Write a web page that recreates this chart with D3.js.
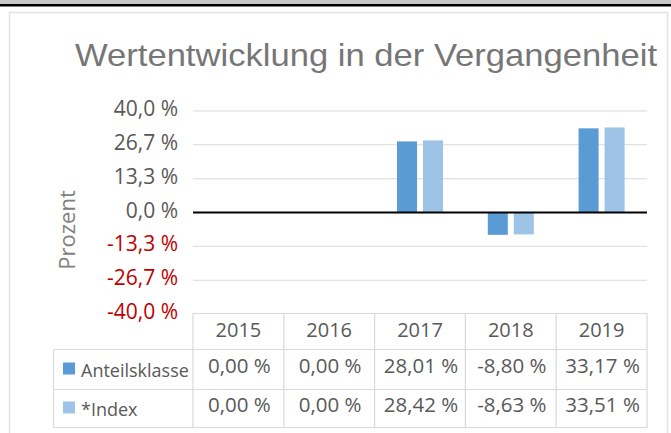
<!DOCTYPE html>
<html>
<head>
<meta charset="utf-8">
<script src="https://cdn.jsdelivr.net/npm/d3@7"></script>
<style>
  html, body { margin: 0; padding: 0; background: #ffffff; }
  svg { display: block; }
</style>
</head>
<body>
<svg id="chart" width="671" height="433"></svg>
<script>
// ---- data ----
const categories = ["2015", "2016", "2017", "2018", "2019"];
const seriesNames = ["Anteilsklasse", "*Index"];
const anteilsklasse = [0.00, 0.00, 28.01, -8.80, 33.17];
const indexValues = [0.00, 0.00, 28.42, -8.63, 33.51];
const yTicks = [40, 26.7, 13.3, 0, -13.3, -26.7, -40];
const titleText = "Wertentwicklung in der Vergangenheit";
const yAxisTitle = "Prozent";
const seriesColors = ["#5b9bd5", "#9dc3e6"];

const series = [
  { name: seriesNames[0], values: anteilsklasse, color: seriesColors[0] },
  { name: seriesNames[1], values: indexValues, color: seriesColors[1] }
];

const de = d3.formatLocale({ decimal: ",", thousands: ".", grouping: [3], currency: ["", " €"], minus: "-" });
const fmt1 = de.format(".1f");
const fmt2 = de.format(".2f");

const svg = d3.select("#chart");

// top bands
svg.append("rect").attr("x", 0).attr("y", 0).attr("width", 671).attr("height", 4).attr("fill", "#c8c8c8");
svg.append("rect").attr("x", 0).attr("y", 4).attr("width", 671).attr("height", 2.5).attr("fill", "#000000");

// frame
svg.append("rect").attr("x", 9.5).attr("y", 12.5).attr("width", 658).attr("height", 430)
  .attr("fill", "#ffffff").attr("stroke", "#e2e2e2").attr("stroke-width", 1.5);

// title
svg.append("text").attr("x", 75).attr("y", 66)
  .attr("font-family", "Liberation Sans, Arial, sans-serif")
  .attr("font-size", 31.5).attr("fill", "#767676")
  .attr("textLength", 582).attr("lengthAdjust", "spacingAndGlyphs")
  .text(titleText);

// scales
const plotLeft = 193, plotRight = 647;
const x0 = d3.scaleBand().domain(categories).range([plotLeft, plotRight]).padding(0);
const groupW = 46;
const x1 = d3.scaleBand().domain(seriesNames)
  .range([x0.bandwidth() / 2 - groupW / 2, x0.bandwidth() / 2 + groupW / 2])
  .paddingInner(0.23).paddingOuter(0);
const y = d3.scaleLinear().domain([-40, 40]).range([314, 111]);

// gridlines
svg.append("g").selectAll("line").data(yTicks.filter(t => t !== 0 && t !== -40)).join("line")
  .attr("x1", plotLeft).attr("x2", plotRight)
  .attr("y1", d => y(d)).attr("y2", d => y(d))
  .attr("stroke", "#d9d9d9").attr("stroke-width", 1.2);

// y axis labels
const yAxis = d3.axisLeft(y).tickValues(yTicks).tickSize(0).tickPadding(0)
  .tickFormat(d => fmt1(d) + " %");
const gy = svg.append("g").attr("transform", "translate(178,0)").call(yAxis);
gy.select(".domain").remove();
gy.selectAll("text")
  .attr("font-family", "Open Sans, sans-serif")
  .attr("font-size", 21)
  .attr("dy", "0.32em")
  .attr("y", -2)
  .attr("fill", d => d < 0 ? "#c00000" : "#595959");

// axis title
svg.append("text")
  .attr("transform", "translate(75,230) rotate(-90)")
  .attr("text-anchor", "middle")
  .attr("font-family", "Open Sans, sans-serif")
  .attr("font-size", 22).attr("fill", "#808080")
  .text(yAxisTitle);

// bars
const groups = svg.append("g").selectAll("g").data(categories).join("g")
  .attr("transform", d => `translate(${x0(d)},0)`);
groups.selectAll("rect")
  .data((c, i) => series.map(s => ({ name: s.name, value: s.values[i], color: s.color })))
  .join("rect")
  .attr("x", d => x1(d.name))
  .attr("width", x1.bandwidth())
  .attr("y", d => y(Math.max(0, d.value)))
  .attr("height", d => Math.abs(y(d.value) - y(0)))
  .attr("fill", d => d.color);

// zero line
svg.append("line").attr("x1", plotLeft).attr("x2", plotRight)
  .attr("y1", y(0)).attr("y2", y(0))
  .attr("stroke", "#000000").attr("stroke-width", 2);

// data table
const tableTop = 313.5, headerBottom = 349.5, row1Bottom = 389.5, tableBottom = 427.5;
const legendLeft = 53.5;
const rowsY = [headerBottom, row1Bottom, tableBottom];
const gridColor = "#d9d9d9";
const tbl = svg.append("g");
tbl.append("line").attr("x1", plotLeft).attr("x2", plotRight).attr("y1", tableTop).attr("y2", tableTop)
  .attr("stroke", gridColor).attr("stroke-width", 1.2);
tbl.selectAll("line.h").data(rowsY).join("line").attr("class", "h")
  .attr("x1", legendLeft).attr("x2", plotRight).attr("y1", d => d).attr("y2", d => d)
  .attr("stroke", gridColor).attr("stroke-width", 1.2);
const colEdges = categories.map(c => x0(c)).concat([plotRight]);
tbl.selectAll("line.v").data(colEdges).join("line").attr("class", "v")
  .attr("x1", d => d).attr("x2", d => d).attr("y1", tableTop).attr("y2", tableBottom)
  .attr("stroke", gridColor).attr("stroke-width", 1.2);
tbl.append("line").attr("x1", legendLeft).attr("x2", legendLeft).attr("y1", headerBottom).attr("y2", tableBottom)
  .attr("stroke", gridColor).attr("stroke-width", 1.2);

// header text
tbl.selectAll("text.hdr").data(categories).join("text").attr("class", "hdr")
  .attr("x", d => x0(d) + x0.bandwidth() / 2).attr("y", 337)
  .attr("text-anchor", "middle")
  .attr("font-family", "Open Sans, sans-serif").attr("font-size", 20)
  .attr("fill", "#595959").text(d => d);

// value rows
const rowBaselines = [373, 412];
series.forEach((s, si) => {
  tbl.selectAll(`text.v${si}`).data(s.values).join("text").attr("class", `v${si}`)
    .attr("x", (d, i) => x0(categories[i]) + x0.bandwidth() / 2 + 1)
    .attr("y", rowBaselines[si])
    .attr("text-anchor", "middle")
    .attr("font-family", "Open Sans, sans-serif").attr("font-size", 20.5)
    .attr("fill", "#595959").text(d => fmt2(d) + " %");
  tbl.append("rect").attr("x", 63).attr("y", rowBaselines[si] - 10.5).attr("width", 12).attr("height", 12)
    .attr("fill", s.color);
  tbl.append("text").attr("x", 81).attr("y", rowBaselines[si] + 4)
    .attr("font-family", "Open Sans, sans-serif").attr("font-size", 18)
    .attr("fill", "#595959").text(s.name);
});
</script>
</body>
</html>
